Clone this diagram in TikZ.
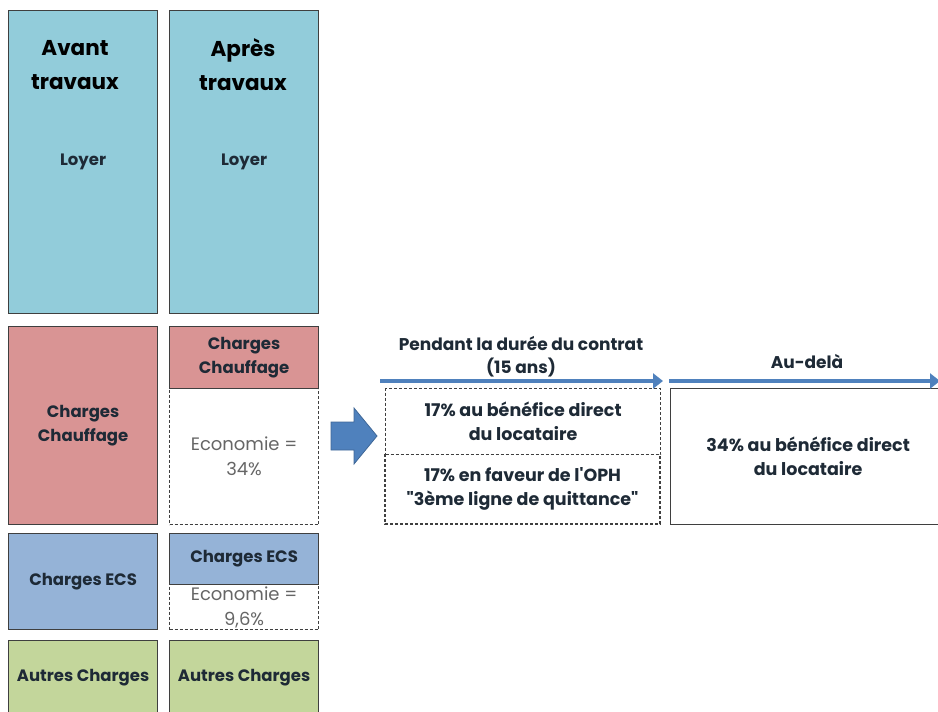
\documentclass[tikz,border=0pt]{standalone}
\usepackage{fontspec}
\setmainfont{Poppins}
\newfontfamily\droit{Poppins}
\usetikzlibrary{arrows.meta}
\definecolor{loyer}{HTML}{92CCDA}
\definecolor{chauff}{HTML}{D99494}
\definecolor{ecs}{HTML}{95B3D7}
\definecolor{autres}{HTML}{C3D69B}
\definecolor{boxline}{HTML}{3F3F3F}
\definecolor{boxtext}{HTML}{1E2A36}
\definecolor{fleche}{HTML}{4F81BD}
\tikzset{
  box/.style={draw=boxline, line width=1.2pt, anchor=north west, inner sep=0pt,
    align=center, text=boxtext, font=\fontsize{16.5}{24}\selectfont\bfseries},
  eco/.style={box, dash pattern=on 3pt off 2pt, fill=white, text=black!60,
    font=\fontsize{18}{25}\selectfont},
  part/.style={box, dash pattern=on 3pt off 2pt, fill=white, font=\fontsize{17.5}{24}\selectfont\bfseries},
  bord/.style={draw=boxline, line width=1.2pt, dash pattern=on 3pt off 2pt},
  titre/.style={align=center, font=\fontsize{21.5}{34}\selectfont\bfseries},
  label/.style={align=center, text=boxtext, font=\fontsize{17}{23}\selectfont\bfseries},
  temps/.style={line width=4pt, fleche, -{Triangle[length=10pt,width=15pt]}}
}
\begin{document}
\begin{tikzpicture}[x=1pt, y=-1pt]
    \useasboundingbox (0,0) rectangle (938,712) ;
    % avant travaux
    \node[box, fill=loyer, minimum width=149pt, minimum height=303pt] (loyerA) at (8,10) {Loyer} ;
    \node[titre] (avant) at (75,65) {Avant\\travaux} ;
    \node[box, fill=chauff, minimum width=149pt, minimum height=198pt] (chaufA) at (8,326) {Charges\\Chauffage} ;
    \node[box, fill=ecs, minimum width=149pt, minimum height=96pt] (ecsA) at (8,533) {Charges ECS} ;
    \node[box, fill=autres, minimum width=149pt, minimum height=74pt] (autresA) at (8,640) {Autres Charges} ;
    % apres travaux
    \node[box, fill=loyer, minimum width=149pt, minimum height=303pt] (loyerB) at (169,10) {Loyer} ;
    \node[titre] (apres) at (243,65) {Après\\travaux} ;
    \node[eco, minimum width=149pt, minimum height=136pt] (ecoChauf) at (169,388) {Economie =\\34\%} ;
    \node[box, fill=chauff, minimum width=149pt, minimum height=62pt] (chaufB) at (169,326) {Charges\\Chauffage} ;
    \node[eco, minimum width=149pt, minimum height=45pt] (ecoEcs) at (169,584) {Economie =\\9,6\%} ;
    \node[box, fill=ecs, minimum width=149pt, minimum height=51pt] (ecsB) at (169,533) {Charges ECS} ;
    \node[box, fill=autres, minimum width=149pt, minimum height=74pt] (autresB) at (169,640) {Autres Charges} ;
    % grosse fleche
    \filldraw[fill=fleche, draw=fleche!80!black, line width=.8pt]
      (331,422) -- (354,422) -- (354,408) -- (377,436) -- (354,464) -- (354,450) -- (331,450) -- cycle ;
    % repartition de l'economie
    \node[part, minimum width=275pt, minimum height=66pt] (direct) at (385,388) {17\% au bénéfice direct\\du locataire} ;
    \node[part, draw=none, fill=none, outer sep=0pt, minimum width=275pt, minimum height=70pt] (oph) at (385,454) {17\% en faveur de l{\droit'}OPH\\{\droit"}3ème ligne de quittance{\droit"}} ;
    \draw[bord] (oph.north west) -- (oph.south west) -- (oph.south east) -- (oph.north east) ;
    \node[part, solid, minimum width=275pt, minimum height=136pt] (apresContrat) at (670,388) {34\% au bénéfice direct\\du locataire} ;
    % frise
    \coordinate (t0) at (380,381) ;
    \coordinate (t1) at (663,381) ;
    \coordinate (t2) at (669,381) ;
    \coordinate (t3) at (940,381) ;
    \draw[temps] (t0) -- (t1) ;
    \draw[temps] (t2) -- (t3) ;
    \node[label] (contrat) at (521,357) {Pendant la durée du contrat\\(15 ans)} ;
    \node[label] (audela) at (807,362) {Au-delà} ;
\end{tikzpicture}
\end{document}
